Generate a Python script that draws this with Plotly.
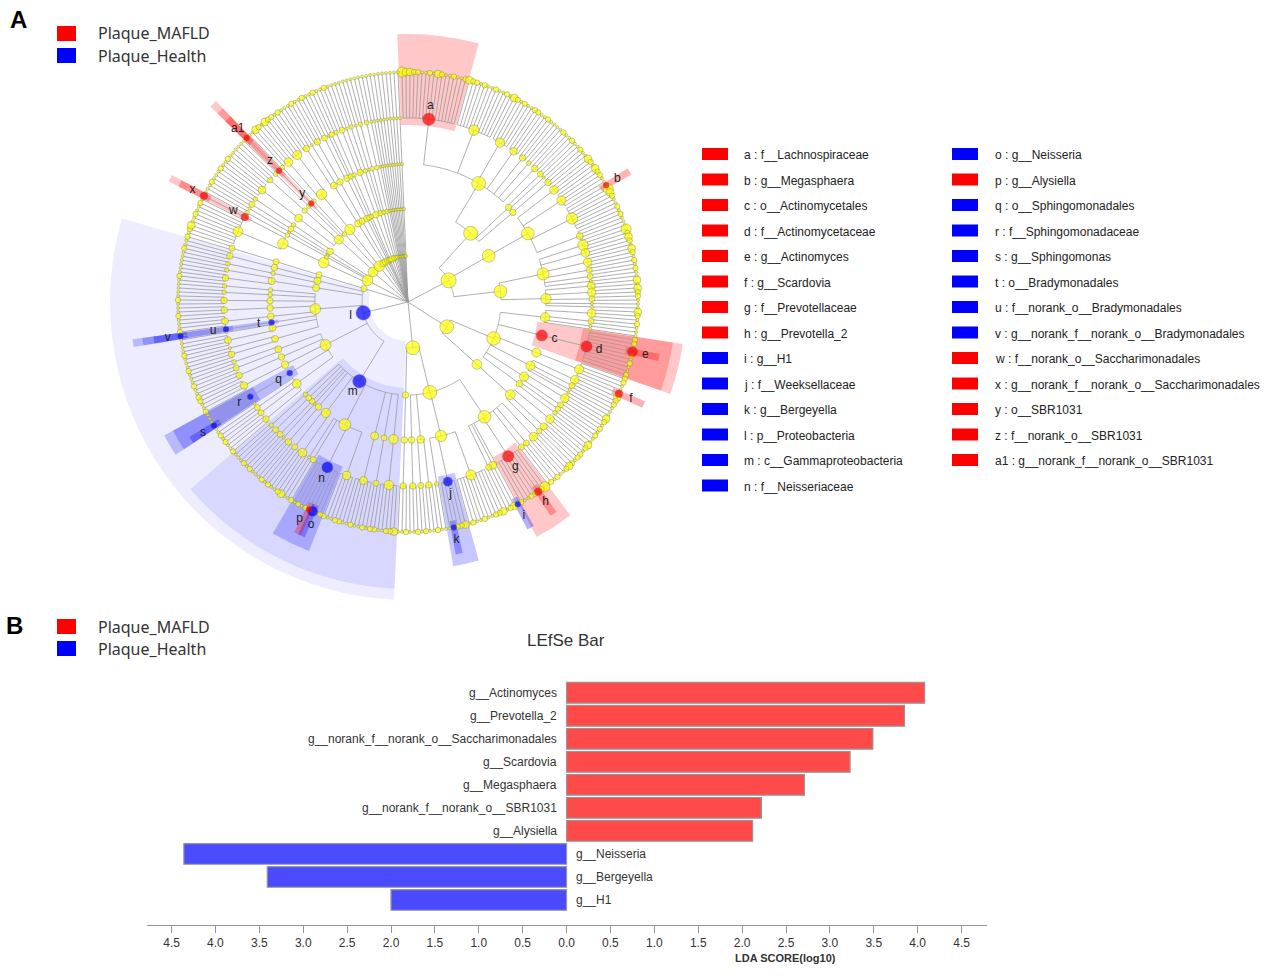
import math
import numpy as np
import plotly.graph_objects as go

W, H = 1278, 978

GROUP_NAMES = ["Plaque_MAFLD", "Plaque_Health"]
GROUP_COLORS = {"Plaque_MAFLD": "rgb(255,0,0)", "Plaque_Health": "rgb(0,0,255)"}
GROUP_SHADE = {"Plaque_MAFLD": "255,0,0", "Plaque_Health": "0,0,255"}
BAR_COLORS = {"Plaque_MAFLD": "rgb(255,74,74)", "Plaque_Health": "rgb(74,74,255)"}

# ---------------- panel B: LEfSe bar ----------------
BAR_TAXA = ["g__Actinomyces", "g__Prevotella_2", "g__norank_f__norank_o__Saccharimonadales",
            "g__Scardovia", "g__Megasphaera", "g__norank_f__norank_o__SBR1031", "g__Alysiella",
            "g__Neisseria", "g__Bergeyella", "g__H1"]
BAR_LDA = [4.08, 3.85, 3.49, 3.23, 2.71, 2.22, 2.12, 4.36, 3.41, 2.00]
BAR_GROUP = ["Plaque_MAFLD"] * 7 + ["Plaque_Health"] * 3
LDA_TICKS = [-4.5, -4.0, -3.5, -3.0, -2.5, -2.0, -1.5, -1.0, -0.5, 0.0,
             0.5, 1.0, 1.5, 2.0, 2.5, 3.0, 3.5, 4.0, 4.5]

# ---------------- panel A: cladogram ----------------
# phylum -> class -> order -> family -> genus (genus value = abundance class 0..3)
FIRMICUTES = [
    [  # Clostridia
        [[3, 2, 2, 1, 1, 0, 0, 1, 0, 2, 1, 0, 0, 1, 0, 0, 1],   # Lachnospiraceae
         [2, 1, 1, 0, 1, 0, 0, 1, 0, 0, 1, 0],                  # Ruminococcaceae
         [2, 1, 0, 1, 0, 0],
         [1, 1, 0, 0],
         [1, 0, 0],
         [0, 0],
         [1, 0, 0]],
        [[1, 0], [0]],
        [[1, 0, 0]],
    ],
    [  # Negativicutes
        [[2, 1, 0],
         [2, 1, 1, 0, 0],
         [1, 3, 2, 1, 0, 0, 1, 0],                              # Veillonellaceae
         [1, 0, 0, 0]],
    ],
    [  # Bacilli
        [[3, 1], [2, 1, 0], [2, 1, 0], [1, 0], [1, 0], [0]],
        [[2, 0], [2, 1], [1, 0], [0], [0]],
    ],
]
ACTINOBACTERIA = [
    [
        [[2, 1, 0], [1, 0], [0], [0]],
        [[1, 1, 0, 3, 1, 0, 1, 0, 0, 1]],                      # Actinomycetales
        [[1, 1, 0, 0, 2]],                                     # Bifidobacteriales
        [[2, 1], [1, 0], [0], [0]],
        [[2, 1, 0], [1, 0]],
        [[1], [0, 0]],
    ],
    [
        [[2, 1, 0], [1, 1, 0], [1]],
    ],
]
BACTEROIDETES = [
    [
        [[2, 1, 0, 0],
         [1, 0],
         [1, 0],
         [3, 1, 2, 1, 1, 0, 0, 1],                             # Prevotellaceae
         [0],
         [2],
         [1, 0]],
        [[2, 1, 1, 0, 0, 1, 0, 0, 1, 0],
         [2, 1, 1, 1, 0],                                      # Weeksellaceae
         [0, 0]],
        [[1, 0, 0], [1, 0]],
        [[1, 0, 0]],
    ],
    [[[1, 0, 0]]],
]
PROTEOBACTERIA = [
    [  # Gammaproteobacteria
        [[2, 1, 1, 0, 0, 1]],
        [[1, 0]],
        [[1, 0, 0, 1, 0, 0]],
        [[1, 1, 0, 0, 1],
         [1, 0, 3, 1, 1, 0, 1, 0],                             # Neisseriaceae
         [1, 0],
         [0]],
        [[2, 1, 0, 0], [1, 0]],
        [[1, 0, 0]],
        [[0]],
        [[1, 0]],
        [[1, 0]],
        [[0, 0]],
    ],
    [  # Alphaproteobacteria
        [[1, 0, 0], [1, 0], [1, 0], [0]],
        [[0, 0, 0, 0]],                                        # Sphingomonadales
        [[1, 0, 0, 1]],
        [[1, 0, 0]],
        [[1, 0], [0, 0]],
    ],
    [  # Deltaproteobacteria
        [[1, 0, 0], [0]],
        [[1, 0, 0, 0], [0]],
        [[0]],                                                 # Bradymonadales
        [[1, 0, 0, 0]],
        [[1, 0, 0]],
        [[0, 1, 0]],
        [[0, 0]],
        [[0, 0]],
    ],
    [[[1, 0, 0], [0, 0]]],
    [[[0, 0]], [[1, 0, 0]]],
]
EPSILONBACTERAEOTA = [[[[1, 0]]]]
PATESCIBACTERIA = [
    [[[1, 2, 0, 0, 1, 0, 0, 1, 0], [2]]],                      # Saccharimonadales
    [[[0, 0]]],
    [[[0]]],
]
CHLOROFLEXI = [
    [[[1, 0]], [[0, 0]]],
    [[[1, 0, 0, 1, 0]], [[0, 0, 0]], [[0, 0]], [[0]]],         # Anaerolineae, SBR1031 last
    [[[0, 0]]],
]
FUSOBACTERIA = [[[[2, 1, 0], [2, 1, 1, 0]]]]
SPIROCHAETES = [[[[1, 0, 0], [0]]]]
SYNERGISTETES = [[[[1, 0, 0]]]]
TENERICUTES = [[[[1, 0], [0]]]]
ABSCONDITABACTERIA = [[[[1]]]]
DEINOCOCCUS_THERMUS = [[[[0, 0]]]]
CYANOBACTERIA = [[[[1, 0], [0]]]]
ACIDOBACTERIA = [[[[0, 0]], [[0]]]]
PLANCTOMYCETES = [[[[0, 0]]]]
VERRUCOMICROBIA = [[[[0, 0]]]]
MINOR_PHYLA = [[[[[0]]]]] * 10

CLADE_LETTERS = ["a", "b", "c", "d", "e", "f", "g", "h", "i", "j", "k", "l", "m", "n",
                 "o", "p", "q", "r", "s", "t", "u", "v", "w", "x", "y", "z", "a1"]
CLADE_NAMES = ["f__Lachnospiraceae", "g__Megasphaera", "o__Actinomycetales", "f__Actinomycetaceae",
               "g__Actinomyces", "g__Scardovia", "f__Prevotellaceae", "g__Prevotella_2", "g__H1",
               "f__Weeksellaceae", "g__Bergeyella", "p__Proteobacteria", "c__Gammaproteobacteria",
               "f__Neisseriaceae", "g__Neisseria", "g__Alysiella", "o__Sphingomonadales",
               "f__Sphingomonadaceae", "g__Sphingomonas", "o__Bradymonadales",
               "f__norank_o__Bradymonadales", "g__norank_f__norank_o__Bradymonadales",
               "f__norank_o__Saccharimonadales", "g__norank_f__norank_o__Saccharimonadales",
               "o__SBR1031", "f__norank_o__SBR1031", "g__norank_f__norank_o__SBR1031"]
CLADE_GROUP = ["Plaque_MAFLD"] * 8 + ["Plaque_Health"] * 7 + ["Plaque_MAFLD"] + \
              ["Plaque_Health"] * 6 + ["Plaque_MAFLD"] * 5
CLADE_PATHS = [
    ("Firmicutes", 0, 0, 0), ("Firmicutes", 1, 0, 2, 0),
    ("Actinobacteria", 0, 1), ("Actinobacteria", 0, 1, 0), ("Actinobacteria", 0, 1, 0, 3),
    ("Actinobacteria", 0, 2, 0, 4),
    ("Bacteroidetes", 0, 0, 3), ("Bacteroidetes", 0, 0, 3, 2), ("Bacteroidetes", 0, 0, 4, 0),
    ("Bacteroidetes", 0, 1, 1), ("Bacteroidetes", 0, 1, 1, 3),
    ("Proteobacteria",), ("Proteobacteria", 0), ("Proteobacteria", 0, 3, 1),
    ("Proteobacteria", 0, 3, 1, 2), ("Proteobacteria", 0, 3, 1, 3),
    ("Proteobacteria", 1, 1), ("Proteobacteria", 1, 1, 0), ("Proteobacteria", 1, 1, 0, 0),
    ("Proteobacteria", 2, 2), ("Proteobacteria", 2, 2, 0), ("Proteobacteria", 2, 2, 0, 0),
    ("Patescibacteria", 0, 0, 1), ("Patescibacteria", 0, 0, 1, 0),
    ("Chloroflexi", 1, 3), ("Chloroflexi", 1, 3, 0), ("Chloroflexi", 1, 3, 0, 0),
]

PHYLA = [("Firmicutes", FIRMICUTES), ("Actinobacteria", ACTINOBACTERIA),
         ("Bacteroidetes", BACTEROIDETES), ("Proteobacteria", PROTEOBACTERIA),
         ("Epsilonbacteraeota", EPSILONBACTERAEOTA), ("Patescibacteria", PATESCIBACTERIA),
         ("Chloroflexi", CHLOROFLEXI), ("Fusobacteria", FUSOBACTERIA),
         ("Spirochaetes", SPIROCHAETES), ("Synergistetes", SYNERGISTETES),
         ("Tenericutes", TENERICUTES), ("Absconditabacteria", ABSCONDITABACTERIA),
         ("Deinococcus-Thermus", DEINOCOCCUS_THERMUS), ("Cyanobacteria", CYANOBACTERIA),
         ("Acidobacteria", ACIDOBACTERIA), ("Planctomycetes", PLANCTOMYCETES),
         ("Verrucomicrobia", VERRUCOMICROBIA)] + \
        [("minor_%d" % k, t) for k, t in enumerate(MINOR_PHYLA)]

# ---------------- tree layout ----------------
RING = [0, 46, 93, 138, 184, 230]
SHADE_OUT = [0, 298, 287, 278, 268, 257]
SHADE_ALPHA = [0, 0.07, 0.09, 0.22, 0.22, 0.3]
ABUND_W = [1, 3, 9, 27]
START = 91.5


def count_leaves(sub, level):
    if level == 5:
        return 1
    return sum(count_leaves(c, level + 1) for c in sub)


N_LEAVES = sum(count_leaves(t, 1) for _, t in PHYLA)
STEP = 360.0 / N_LEAVES

nodes = {}
leaf_i = [0]
line_r, line_t = [], []


def walk(path, sub, level):
    if level == 5:
        i = leaf_i[0]
        leaf_i[0] += 1
        nodes[path] = dict(theta=START - i * STEP, w=ABUND_W[sub], level=5, lo=i, hi=i)
        return nodes[path]
    kids = [walk(path + (k,), c, level + 1) for k, c in enumerate(sub)]
    ths = [k["theta"] for k in kids]
    nd = dict(theta=float(np.mean(ths)), w=sum(k["w"] for k in kids), level=level,
              lo=min(k["lo"] for k in kids), hi=max(k["hi"] for k in kids))
    # arc through parent ring, then radial lines to children
    a = np.linspace(min(ths), max(ths), max(2, int((max(ths) - min(ths)) / 0.5) + 1))
    line_r.extend([RING[level]] * len(a) + [None])
    line_t.extend(list(a) + [None])
    for t in ths:
        line_r.extend([RING[level], RING[level + 1], None])
        line_t.extend([t, t, None])
    nodes[path] = nd
    return nd


for name, tree in PHYLA:
    nd = walk((name,), tree, 1)
    line_r.extend([0, RING[1], None])
    line_t.extend([nd["theta"], nd["theta"], None])


def node_size(w):
    return min(15.0, 3 + 5 * math.log10(w))


marked = set(CLADE_PATHS)
ny_r, ny_t, ny_s = [], [], []
for p, nd in nodes.items():
    if p in marked:
        continue
    ny_r.append(RING[nd["level"]])
    ny_t.append(nd["theta"])
    ny_s.append(node_size(nd["w"]))

sh_r, sh_b, sh_t, sh_w, sh_c = [], [], [], [], []
bm_r, bm_t, bm_s, bm_c = [], [], [], []
lb_r, lb_t = [], []
for letter, path, grp in zip(CLADE_LETTERS, CLADE_PATHS, CLADE_GROUP):
    nd = nodes[path]
    L = nd["level"]
    base = RING[L] - 7
    sh_b.append(base)
    sh_r.append(SHADE_OUT[L] - base)
    sh_t.append(START - (nd["lo"] + nd["hi"]) / 2 * STEP)
    sh_w.append((nd["hi"] - nd["lo"] + 1.6) * STEP)
    sh_c.append("rgba(%s,%.2f)" % (GROUP_SHADE[grp], SHADE_ALPHA[L]))
    bm_r.append(RING[L])
    bm_t.append(nd["theta"])
    bm_s.append(max(6.0, node_size(nd["w"])))
    bm_c.append(GROUP_COLORS[grp])
    lb_r.append(RING[L] + 13)
    lb_t.append(nd["theta"])

# spread letters that would sit on top of each other on the same ring
MIN_GAP = 3.0
for i in range(len(lb_t)):
    for j in range(i + 1, len(lb_t)):
        d = lb_t[i] - lb_t[j]
        if lb_r[i] == lb_r[j] and abs(d) < MIN_GAP:
            push = (MIN_GAP - abs(d)) / 2 * (1 if d >= 0 else -1)
            lb_t[i] += push
            lb_t[j] -= push

fig = go.Figure()

fig.add_trace(go.Barpolar(r=sh_r, base=sh_b, theta=sh_t, width=sh_w,
                          marker=dict(color=sh_c, line=dict(width=0)),
                          hoverinfo="skip", showlegend=False))
fig.add_trace(go.Scatterpolar(r=line_r, theta=line_t, mode="lines",
                              line=dict(color="rgb(155,155,155)", width=0.8),
                              hoverinfo="skip", showlegend=False))
fig.add_trace(go.Scatterpolar(r=ny_r, theta=ny_t, mode="markers",
                              marker=dict(size=ny_s, color="rgb(255,255,0)",
                                          line=dict(color="rgb(140,140,80)", width=0.7)),
                              hoverinfo="skip", showlegend=False))
fig.add_trace(go.Scatterpolar(r=bm_r, theta=bm_t, mode="markers",
                              marker=dict(size=bm_s, color=bm_c,
                                          line=dict(color="rgb(90,90,90)", width=0.4)),
                              hoverinfo="skip", showlegend=False))
fig.add_trace(go.Scatterpolar(r=lb_r, theta=lb_t, mode="text", text=CLADE_LETTERS,
                              textfont=dict(family="Liberation Sans, Arial", size=12, color="#222"),
                              hoverinfo="skip", showlegend=False))

# ---------------- LEfSe bars ----------------
signed = [v if g == "Plaque_MAFLD" else -v for v, g in zip(BAR_LDA, BAR_GROUP)]
fig.add_trace(go.Bar(x=signed, y=BAR_TAXA, orientation="h", width=0.9,
                     marker=dict(color=[BAR_COLORS[g] for g in BAR_GROUP],
                                 line=dict(color="rgb(150,150,150)", width=1.2)),
                     hoverinfo="skip", showlegend=False))

annotations = []
for taxon, v in zip(BAR_TAXA, signed):
    annotations.append(dict(x=0, y=taxon, xref="x", yref="y", text=taxon, showarrow=False,
                            xanchor="right" if v > 0 else "left", xshift=-8 if v > 0 else 7,
                            font=dict(family="Liberation Sans, Arial", size=12, color="#333")))


def px(x):
    return x / W


def py(y):
    return 1 - y / H


shapes = []
# group legends of both panels
for top in (26, 619):
    for k, g in enumerate(GROUP_NAMES):
        y0 = top + 22 * k
        shapes.append(dict(type="rect", xref="paper", yref="paper", x0=px(57), x1=px(76),
                           y0=py(y0), y1=py(y0 + 15), fillcolor=GROUP_COLORS[g], line=dict(width=0)))
        annotations.append(dict(x=px(96), y=py(y0 + 7.5), xref="paper", yref="paper", text=g,
                                showarrow=False, xanchor="left", yanchor="middle",
                                font=dict(family="Noto Sans, Open Sans", size=16, color="#333")))

annotations.append(dict(x=px(8), y=py(20), xref="paper", yref="paper", text="<b>A</b>",
                        showarrow=False, xanchor="left", yanchor="middle",
                        font=dict(family="Liberation Sans, Arial", size=24, color="black")))
annotations.append(dict(x=px(4), y=py(625), xref="paper", yref="paper", text="<b>B</b>",
                        showarrow=False, xanchor="left", yanchor="middle",
                        font=dict(family="Liberation Sans, Arial", size=24, color="black")))

# cladogram key
for k, (letter, name, grp) in enumerate(zip(CLADE_LETTERS, CLADE_NAMES, CLADE_GROUP)):
    col, row = (0, k) if k < 14 else (1, k - 14)
    rx = 702 if col == 0 else 952
    tx = 742 if col == 0 else 993
    yc = 155 + 25.5 * row
    shapes.append(dict(type="rect", xref="paper", yref="paper", x0=px(rx), x1=px(rx + 26),
                       y0=py(yc - 7), y1=py(yc + 5), fillcolor=GROUP_COLORS[grp], line=dict(width=0)))
    annotations.append(dict(x=px(tx), y=py(yc), xref="paper", yref="paper",
                            text="%s : %s" % (letter, name), showarrow=False,
                            xanchor="left", yanchor="middle",
                            font=dict(family="Liberation Sans, Arial", size=12, color="#222")))

annotations.append(dict(x=px(566), y=py(640), xref="paper", yref="paper", text="LEfSe Bar",
                        showarrow=False, font=dict(family="Liberation Sans, Arial", size=17, color="#333")))
annotations.append(dict(x=px(785), y=py(966), xref="paper", yref="paper", text="<b>LDA SCORE(log10)</b>",
                        showarrow=False, font=dict(family="Liberation Sans, Arial", size=11, color="#333")))

fig.update_layout(
    width=W, height=H, margin=dict(l=0, r=0, t=0, b=0),
    paper_bgcolor="white", plot_bgcolor="white", showlegend=False,
    polar=dict(domain=dict(x=[px(108), px(708)], y=[py(602), py(2)]),
               bgcolor="rgba(0,0,0,0)", barmode="overlay",
               radialaxis=dict(range=[0, 300], visible=False, showgrid=False),
               angularaxis=dict(visible=False, showgrid=False, rotation=0,
                                direction="counterclockwise")),
    xaxis=dict(domain=[px(147), px(987)], range=[-4.78, 4.79], tickvals=LDA_TICKS,
               ticktext=["%.1f" % abs(v) for v in LDA_TICKS], showgrid=False, zeroline=False,
               showline=True, linecolor="rgb(150,150,150)", ticks="outside", ticklen=7,
               tickcolor="rgb(150,150,150)",
               tickfont=dict(family="Liberation Sans, Arial", size=12, color="#333")),
    yaxis=dict(domain=[py(925), py(679)], type="category", categoryorder="array",
               categoryarray=BAR_TAXA[::-1], range=[-1.09, 9.6], showticklabels=False,
               showgrid=False, zeroline=False, showline=False, ticks=""),
    shapes=shapes, annotations=annotations,
)

fig.write_html("out.html", config={"displayModeBar": False},
               post_script="document.body.style.margin='0';")
